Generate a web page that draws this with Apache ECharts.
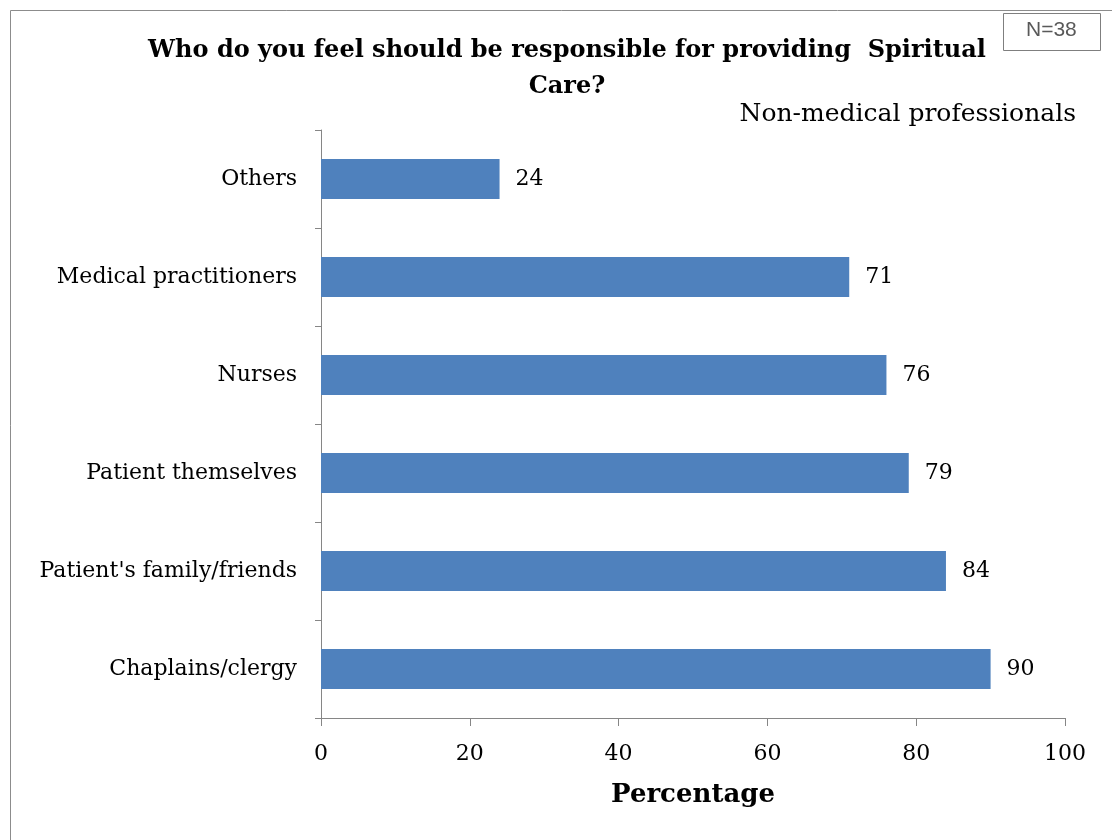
<!DOCTYPE html>
<html><head><meta charset="utf-8">
<script src="https://cdn.jsdelivr.net/npm/echarts@6/dist/echarts.min.js"></script>
<style>html,body{margin:0;padding:0;background:#fff}#c{width:1112px;height:840px}</style>
</head><body><div id="c"></div>
<script>
const categories = ['Chaplains/clergy', "Patient's family/friends", 'Patient themselves', 'Nurses', 'Medical practitioners', 'Others'];
const values = [90, 84, 79, 76, 71, 24];
const xTicks = [0, 20, 40, 60, 80, 100];
const titleText = 'Who do you feel should be responsible for providing  Spiritual\nCare?';
const subtitleText = 'Non-medical professionals';
const nText = 'N=38';
const xName = 'Percentage';

const serif = '"DejaVu Serif", "Liberation Serif", serif';
const chart = echarts.init(document.getElementById('c'), null, {renderer: 'canvas'});
chart.setOption({
  backgroundColor: '#fff',
  animation: false,
  grid: {left: 321, right: 47, top: 130, bottom: 122, containLabel: false},
  title: [{
    text: titleText, left: 562, top: 28, textAlign: 'center',
    textStyle: {fontFamily: serif, fontWeight: 'bold', fontSize: 24, lineHeight: 36, color: '#000'}
  }, {
    text: subtitleText, right: 31, top: 97,
    textStyle: {fontFamily: serif, fontWeight: 'normal', fontSize: 25, color: '#000'}
  }],
  graphic: [
    {type: 'rect', shape: {x: 10.5, y: 10.5, width: 1120, height: 840}, style: {fill: 'none', stroke: '#8c8c8c', lineWidth: 1}, silent: true},
    {type: 'rect', shape: {x: 1003.5, y: 13.5, width: 97, height: 37}, style: {fill: '#fff', stroke: '#7f7f7f', lineWidth: 1}, z: 10},
    {type: 'text', left: 1026, top: 20, z: 11, style: {text: nText, fill: '#595959', font: '21px "Liberation Sans", "DejaVu Sans", sans-serif'}}
  ],
  xAxis: {
    type: 'value', min: 0, max: 100, interval: 20,
    name: xName, nameLocation: 'middle', nameGap: 64,
    nameTextStyle: {fontFamily: serif, fontWeight: 'bold', fontSize: 26, color: '#000'},
    axisLine: {show: true, lineStyle: {color: '#868686', width: 1}},
    axisTick: {show: true, length: 8, lineStyle: {color: '#868686'}},
    axisLabel: {fontFamily: serif, fontSize: 22, color: '#000', margin: 25},
    splitLine: {show: false}
  },
  yAxis: {
    type: 'category', data: categories,
    axisLine: {show: true, lineStyle: {color: '#868686', width: 1}},
    axisTick: {show: true, length: 6, lineStyle: {color: '#868686'}},
    axisLabel: {fontFamily: serif, fontSize: 22, color: '#000', margin: 24, padding: [4, 0, 0, 0]}
  },
  series: [{
    type: 'bar', data: values, barWidth: 40,
    itemStyle: {color: '#4F81BD'},
    label: {show: true, position: 'right', distance: 16, fontFamily: serif, fontSize: 22, color: '#000', padding: [4, 0, 0, 0]}
  }]
});
</script></body></html>
